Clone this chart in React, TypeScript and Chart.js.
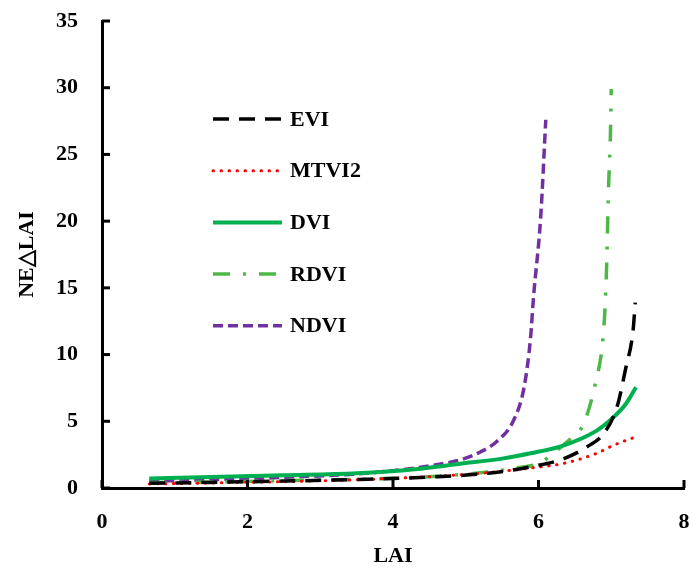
import React, { useEffect, useRef } from "react";
import { Chart, registerables } from "chart.js";

Chart.register(...registerables);

const seriesNames = ["EVI", "MTVI2", "DVI", "RDVI", "NDVI"];

const eviX = [0.65, 1.5, 2.5, 3.5, 4.5, 5.3, 5.9, 6.35, 6.67, 6.9, 7.08, 7.2, 7.3, 7.33];
const eviY = [0.35, 0.42, 0.52, 0.64, 0.82, 1.1, 1.6, 2.2, 3.1, 4.1, 6.1, 9.0, 11.8, 13.9];

const mtviX = [0.65, 1.5, 2.5, 3.5, 4.5, 5.3, 5.9, 6.35, 6.8, 7.03, 7.32];
const mtviY = [0.3, 0.38, 0.48, 0.62, 0.85, 1.15, 1.5, 1.85, 2.6, 3.2, 3.8];

const dviX = [0.65, 1.5, 2.5, 3.5, 4.3, 4.97, 5.5, 5.89, 6.35, 6.8, 7.03, 7.2, 7.34];
const dviY = [0.72, 0.82, 0.95, 1.1, 1.4, 1.85, 2.2, 2.6, 3.2, 4.3, 5.3, 6.3, 7.55];

const rdviX = [0.65, 1.5, 2.5, 3.5, 4.5, 5.3, 5.7, 6.03, 6.2, 6.44, 6.62, 6.78, 6.88, 6.92, 6.94, 6.96, 6.99, 7.0];
const rdviY = [0.4, 0.45, 0.55, 0.65, 0.85, 1.2, 1.5, 1.9, 2.6, 3.7, 4.8, 7.8, 10.9, 14.1, 17.3, 22, 26.8, 29.9];

const ndviX = [0.65, 1.5, 2.5, 3.5, 4.0, 4.5, 4.98, 5.2, 5.43, 5.66, 5.8, 5.89, 5.93, 6.03, 6.1];
const ndviY = [0.5, 0.62, 0.8, 1.05, 1.3, 1.65, 2.2, 2.7, 3.5, 5.1, 7.5, 11.2, 14.2, 20.3, 27.6];

const xTicks = [0, 2, 4, 6, 8];
const yTicks = [0, 5, 10, 15, 20, 25, 30, 35];

const FONT = "'Liberation Serif', 'Times New Roman', serif";

const pts = (xs: number[], ys: number[]) => xs.map((x, i) => ({ x, y: ys[i] }));

const legendPlugin = {
  id: "inlineLegend",
  afterDraw(chart: any) {
    const ctx = chart.ctx;
    const area = chart.chartArea;
    const x0 = area.left + 111;
    const x1 = area.left + 180;
    const tx = area.left + 188;
    ctx.save();
    chart.data.datasets.forEach((ds: any, i: number) => {
      const y = area.top + 98 + i * 51.7;
      ctx.beginPath();
      ctx.strokeStyle = ds.borderColor;
      ctx.lineWidth = ds.borderWidth;
      ctx.lineCap = ds.borderCapStyle || "butt";
      ctx.setLineDash(ds.borderDash || []);
      ctx.moveTo(x0, y);
      ctx.lineTo(x1, y);
      ctx.stroke();
      ctx.setLineDash([]);
      ctx.fillStyle = "#000";
      ctx.font = `bold 22px ${FONT}`;
      ctx.textAlign = "left";
      ctx.textBaseline = "middle";
      ctx.fillText(ds.label, tx, y + 1);
    });
    ctx.restore();
  },
};

const tickMarkPlugin = {
  id: "innerTicks",
  afterDraw(chart: any) {
    const ctx = chart.ctx;
    const area = chart.chartArea;
    const xs = chart.scales.x;
    const ys = chart.scales.y;
    ctx.save();
    ctx.strokeStyle = "#000";
    ctx.lineWidth = 3;
    ctx.setLineDash([]);
    xTicks.forEach((v) => {
      const px = xs.getPixelForValue(v);
      ctx.beginPath();
      ctx.moveTo(px, area.bottom);
      ctx.lineTo(px, area.bottom - 8);
      ctx.stroke();
    });
    yTicks.forEach((v) => {
      const py = ys.getPixelForValue(v);
      ctx.beginPath();
      ctx.moveTo(area.left, py);
      ctx.lineTo(area.left + 8, py);
      ctx.stroke();
    });
    ctx.restore();
  },
};

export default function App() {
  const ref = useRef<HTMLCanvasElement>(null);

  useEffect(() => {
    document.body.style.margin = "0";
    const canvas = ref.current!;
    const common = {
      showLine: true,
      pointRadius: 0,
      pointHoverRadius: 0,
      fill: false,
      cubicInterpolationMode: "monotone" as const,
    };
    const chart = new Chart(canvas, {
      type: "scatter",
      data: {
        datasets: [
          { ...common, label: seriesNames[0], data: pts(eviX, eviY), borderColor: "#000000", borderWidth: 3.5, borderDash: [16, 10] },
          { ...common, label: seriesNames[1], data: pts(mtviX, mtviY), borderColor: "#FF0000", borderWidth: 3, borderDash: [0.5, 7.5], borderCapStyle: "round" },
          { ...common, label: seriesNames[2], data: pts(dviX, dviY), borderColor: "#00B050", borderWidth: 4 },
          { ...common, label: seriesNames[3], data: pts(rdviX, rdviY), borderColor: "#4DB848", borderWidth: 3.5, borderDash: [17, 13, 3, 13] },
          { ...common, label: seriesNames[4], data: pts(ndviX, ndviY), borderColor: "#7030A0", borderWidth: 3.5, borderDash: [10, 5] },
        ],
      },
      options: {
        animation: false,
        responsive: false,
        maintainAspectRatio: false,
        layout: { padding: { top: 21, right: 8, bottom: 0, left: 0 } },
        plugins: { legend: { display: false }, tooltip: { enabled: false } },
        scales: {
          x: {
            type: "linear",
            min: 0,
            max: 8,
            afterBuildTicks: (s: any) => {
              s.ticks = xTicks.map((v) => ({ value: v }));
            },
            afterFit: (s: any) => {
              s.height = 84;
              s.paddingLeft = 0;
              s.paddingRight = 0;
            },
            grid: { display: false, drawTicks: false },
            border: { display: true, color: "#000", width: 3 },
            ticks: {
              padding: 21,
              color: "#000",
              font: { family: FONT, size: 22, weight: "bold" },
              maxRotation: 0,
            },
            title: {
              display: true,
              text: "LAI",
              color: "#000",
              font: { family: FONT, size: 22, weight: "bold" },
              padding: { top: 0, bottom: 2 },
            },
          },
          y: {
            type: "linear",
            min: 0,
            max: 35,
            afterBuildTicks: (s: any) => {
              s.ticks = yTicks.map((v) => ({ value: v }));
            },
            afterFit: (s: any) => {
              s.width = 102;
              s.paddingTop = 0;
              s.paddingBottom = 0;
            },
            grid: { display: false, drawTicks: false },
            border: { display: true, color: "#000", width: 3 },
            ticks: {
              padding: 24,
              color: "#000",
              font: { family: FONT, size: 22, weight: "bold" },
            },
            title: {
              display: true,
              text: "NE\u25B3LAI",
              color: "#000",
              font: { family: FONT, size: 22, weight: "bold" },
              padding: { top: 14, bottom: 0 },
            },
          },
        },
      },
      plugins: [legendPlugin, tickMarkPlugin],
    });
    return () => chart.destroy();
  }, []);

  return (
    <div style={{ width: 692, height: 572, background: "#fff" }}>
      <canvas ref={ref} width={692} height={572} style={{ display: "block" }} />
    </div>
  );
}
